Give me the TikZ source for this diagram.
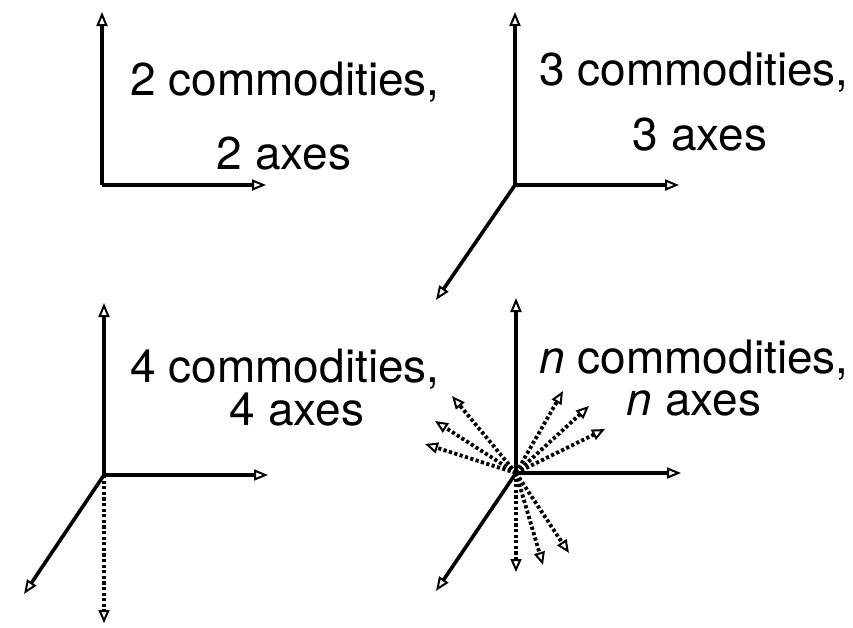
\documentclass[tikz,border=0pt]{standalone}
\usepackage{fontspec}
\setmainfont{TeX Gyre Heros}
\usetikzlibrary{arrows.meta}
\begin{document}
\begin{tikzpicture}[x=1pt,y=-1pt,
  axis/.style={line width=3.6pt,-{Triangle[open,length=14pt,width=11pt,line width=2pt]}},
  dotax/.style={line width=3.8pt,dash pattern=on 3.2pt off 2.4pt,-{Triangle[open,length=13pt,width=11pt,line width=2pt]}},
  lbl/.style={anchor=base,inner sep=0pt,font=\fontsize{46}{50}\selectfont}]
\useasboundingbox (0,0) rectangle (853,627);
% panel 1
\coordinate (o1) at (102,185);
\coordinate (u1) at (102,12);
\coordinate (r1) at (266,185);
\draw[axis] (o1) -- (u1);
\draw[axis] (o1) -- (r1);
\node[lbl] (t1a) at (285,95) {2 commodities,};
\node[lbl] (t1b) at (284,169) {2 axes};
% panel 2
\coordinate (o2) at (515,185);
\coordinate (u2) at (515,12);
\coordinate (r2) at (679,185);
\coordinate (d2) at (436,300);
\draw[axis] (o2) -- (u2);
\draw[axis] (o2) -- (r2);
\draw[axis] (o2) -- (d2);
\node[lbl] (t2a) at (694,85) {3 commodities,};
\node[lbl] (t2b) at (700,150) {3 axes};
% panel 3
\coordinate (o3) at (104,475);
\coordinate (u3) at (104,303);
\coordinate (r3) at (268,475);
\coordinate (d3) at (24,594);
\coordinate (v3) at (104,623);
\draw[axis] (o3) -- (u3);
\draw[axis] (o3) -- (r3);
\draw[axis] (o3) -- (d3);
\draw[dotax] (o3) -- (v3);
\node[lbl] (t3a) at (285,382) {4 commodities,};
\node[lbl] (t3b) at (297,425) {4 axes};
% panel 4
\coordinate (o4) at (516,473);
\coordinate (u4) at (516,298);
\coordinate (r4) at (681,473);
\coordinate (d4) at (436,591);
\draw[axis] (o4) -- (u4);
\draw[axis] (o4) -- (r4);
\draw[axis] (o4) -- (d4);
\foreach \i/\x/\y in {a/452/396, b/435/421, c/425/444, d/563/391, e/589/406, f/605/429, g/516/572, h/543/565, k/569/553}{
  \coordinate (n\i) at (\x,\y);
  \draw[dotax] (o4) -- (n\i);
}
\node[lbl] (t4a) at (694,373) {\textit{n} commodities,};
\node[lbl] (t4b) at (694,415) {\textit{n} axes};
\end{tikzpicture}
\end{document}
